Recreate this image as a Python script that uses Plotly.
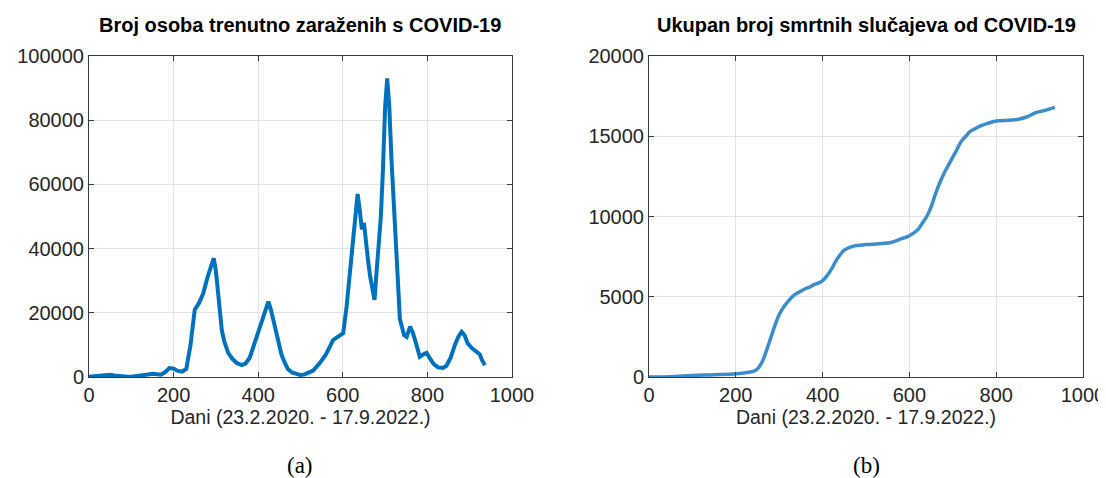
"""
Two-panel COVID-19 chart for Croatia: currently infected persons and
cumulative deaths, plotted against the day index since 23.2.2020.
"""

import plotly.graph_objects as go

# Panel (a): currently infected (day index, persons)
days_a = [0, 10, 20, 30, 40, 50, 60, 70, 80, 90, 100, 110, 120, 130, 140, 150,
          160, 170, 180, 190, 200, 210, 220, 230, 240, 250, 260, 270, 280, 290,
          295, 300, 306, 314, 320, 329, 340, 350, 361, 370, 380, 392, 400, 410,
          417, 424, 430, 440, 447, 455, 463, 470, 480, 490, 500, 510, 520, 530,
          546, 560, 577, 590, 601, 609, 615, 621, 628, 635, 640, 645, 650, 655,
          660, 665, 670, 675, 680, 685, 690, 695, 700, 705, 710, 715, 720, 725,
          730, 735, 745, 751, 759, 765, 772, 782, 790, 798, 805, 815, 825, 837,
          845, 855, 865, 873, 881, 888, 895, 905, 915, 924, 930, 936]
infected = [100, 200, 400, 600, 800, 700, 500, 300, 200, 100, 100, 200, 300,
            500, 800, 1000, 900, 700, 1500, 2800, 2600, 1900, 1700, 2500, 10000,
            21000, 23000, 26000, 31000, 35000, 37000, 33000, 25000, 14600, 11000,
            7500, 5500, 4300, 3700, 4200, 6000, 10600, 14000, 18000, 20000, 23500,
            21000, 15000, 11500, 7000, 4400, 2500, 1400, 900, 600, 800, 1300,
            2000, 4400, 7000, 11500, 12500, 13700, 22000, 30000, 39600, 48000,
            57000, 52000, 46000, 48000, 41000, 36000, 31000, 28000, 24000, 33000,
            40000, 50000, 65000, 84000, 93000, 84000, 68000, 56000, 45000, 35000,
            18000, 13000, 12500, 15700, 14000, 11000, 6300, 7000, 7500, 6000,
            4000, 3000, 2800, 3500, 6000, 10000, 12500, 14100, 13000, 10500,
            9000, 8000, 7000, 5000, 3700]

# Panel (b): cumulative deaths
days_b = [0, 50, 100, 150, 200, 230, 240, 250, 260, 270, 280, 290, 300, 310,
          320, 330, 340, 350, 360, 370, 380, 390, 400, 410, 420, 430, 440, 450,
          460, 470, 500, 530, 560, 580, 600, 620, 630, 640, 650, 660, 670, 680,
          690, 700, 710, 720, 730, 740, 750, 760, 780, 800, 830, 850, 870, 890,
          910, 935]
deaths = [0, 20, 100, 140, 200, 300, 350, 500, 900, 1600, 2400, 3200, 3900,
          4350, 4700, 5000, 5200, 5350, 5500, 5600, 5750, 5850, 6000, 6300, 6700,
          7200, 7600, 7900, 8050, 8150, 8250, 8300, 8400, 8600, 8800, 9200, 9600,
          10000, 10600, 11400, 12100, 12700, 13200, 13700, 14200, 14700, 15000,
          15300, 15450, 15600, 15800, 15950, 16000, 16050, 16200, 16450, 16600,
          16800]

x_ticks = [0, 200, 400, 600, 800, 1000]
x_title = "Dani (23.2.2020. - 17.9.2022.)"

# the page body adds an 8px margin, so the figure is drawn 8px in from the corner
OFF = 8
W, H = 1106 - OFF, 478 - OFF
FONT = "Liberation Sans, Arial, sans-serif"


def _px(x: float) -> float:
    return (x - OFF) / W


def _py(y: float) -> float:
    return 1 - (y - OFF) / H


def _axis(domain, rng, tickvals, title=None):
    ax = dict(
        domain=domain, range=rng, tickvals=tickvals, ticktext=[str(v) for v in tickvals],
        showline=True, linecolor="#3a3a3a", linewidth=1, mirror="ticks",
        ticks="inside", ticklen=5, tickcolor="#3a3a3a", automargin=False,
        showgrid=True, gridcolor="#e3e3e3", gridwidth=1, zeroline=False,
        tickfont=dict(family=FONT, size=20, color="#262626"),
    )
    if title:
        ax["title"] = dict(text=title, standoff=2,
                           font=dict(family=FONT, size=19.5, color="#262626"))
    return ax


fig = go.Figure()
fig.add_trace(go.Scatter(x=days_a, y=infected, mode="lines", xaxis="x", yaxis="y",
                         line=dict(color="#0072BD", width=4)))
fig.add_trace(go.Scatter(x=days_b, y=deaths, mode="lines", xaxis="x2", yaxis="y2",
                         line=dict(color="#3b8dcc", width=3.5, shape="spline")))

# plot areas in screen pixels, converted to paper fractions
ydom = [_py(377), _py(56)]
fig.update_layout(
    width=W, height=H, showlegend=False,
    paper_bgcolor="white", plot_bgcolor="white",
    margin=dict(l=0, r=0, t=0, b=0, autoexpand=False),
    xaxis=_axis([_px(89), _px(512)], [0, 1000], x_ticks, x_title),
    yaxis=_axis(ydom, [0, 100000], [0, 20000, 40000, 60000, 80000, 100000]),
    xaxis2=_axis([_px(649), _px(1083)], [0, 1000], x_ticks, x_title),
    yaxis2=_axis(ydom, [0, 20000], [0, 5000, 10000, 15000, 20000]),
)
fig.update_layout(yaxis2_anchor="x2", xaxis2_anchor="y2")

titles = [("Broj osoba trenutno zaraženih s COVID-19", 300),
          ("Ukupan broj smrtnih slučajeva od COVID-19", 866)]
for text, xc in titles:
    fig.add_annotation(text=f"<b>{text}</b>", x=_px(xc), y=_py(25), xref="paper", yref="paper",
                       xanchor="center", yanchor="middle", showarrow=False,
                       font=dict(family=FONT, size=20, color="black"))

for text, xc in [("(a)", 300), ("(b)", 866)]:
    fig.add_annotation(text=text, x=_px(xc), y=_py(465), xref="paper", yref="paper",
                       xanchor="center", yanchor="middle", showarrow=False,
                       font=dict(family="Liberation Serif, Times New Roman, serif", size=23, color="black"))

fig.write_html("out.html")
